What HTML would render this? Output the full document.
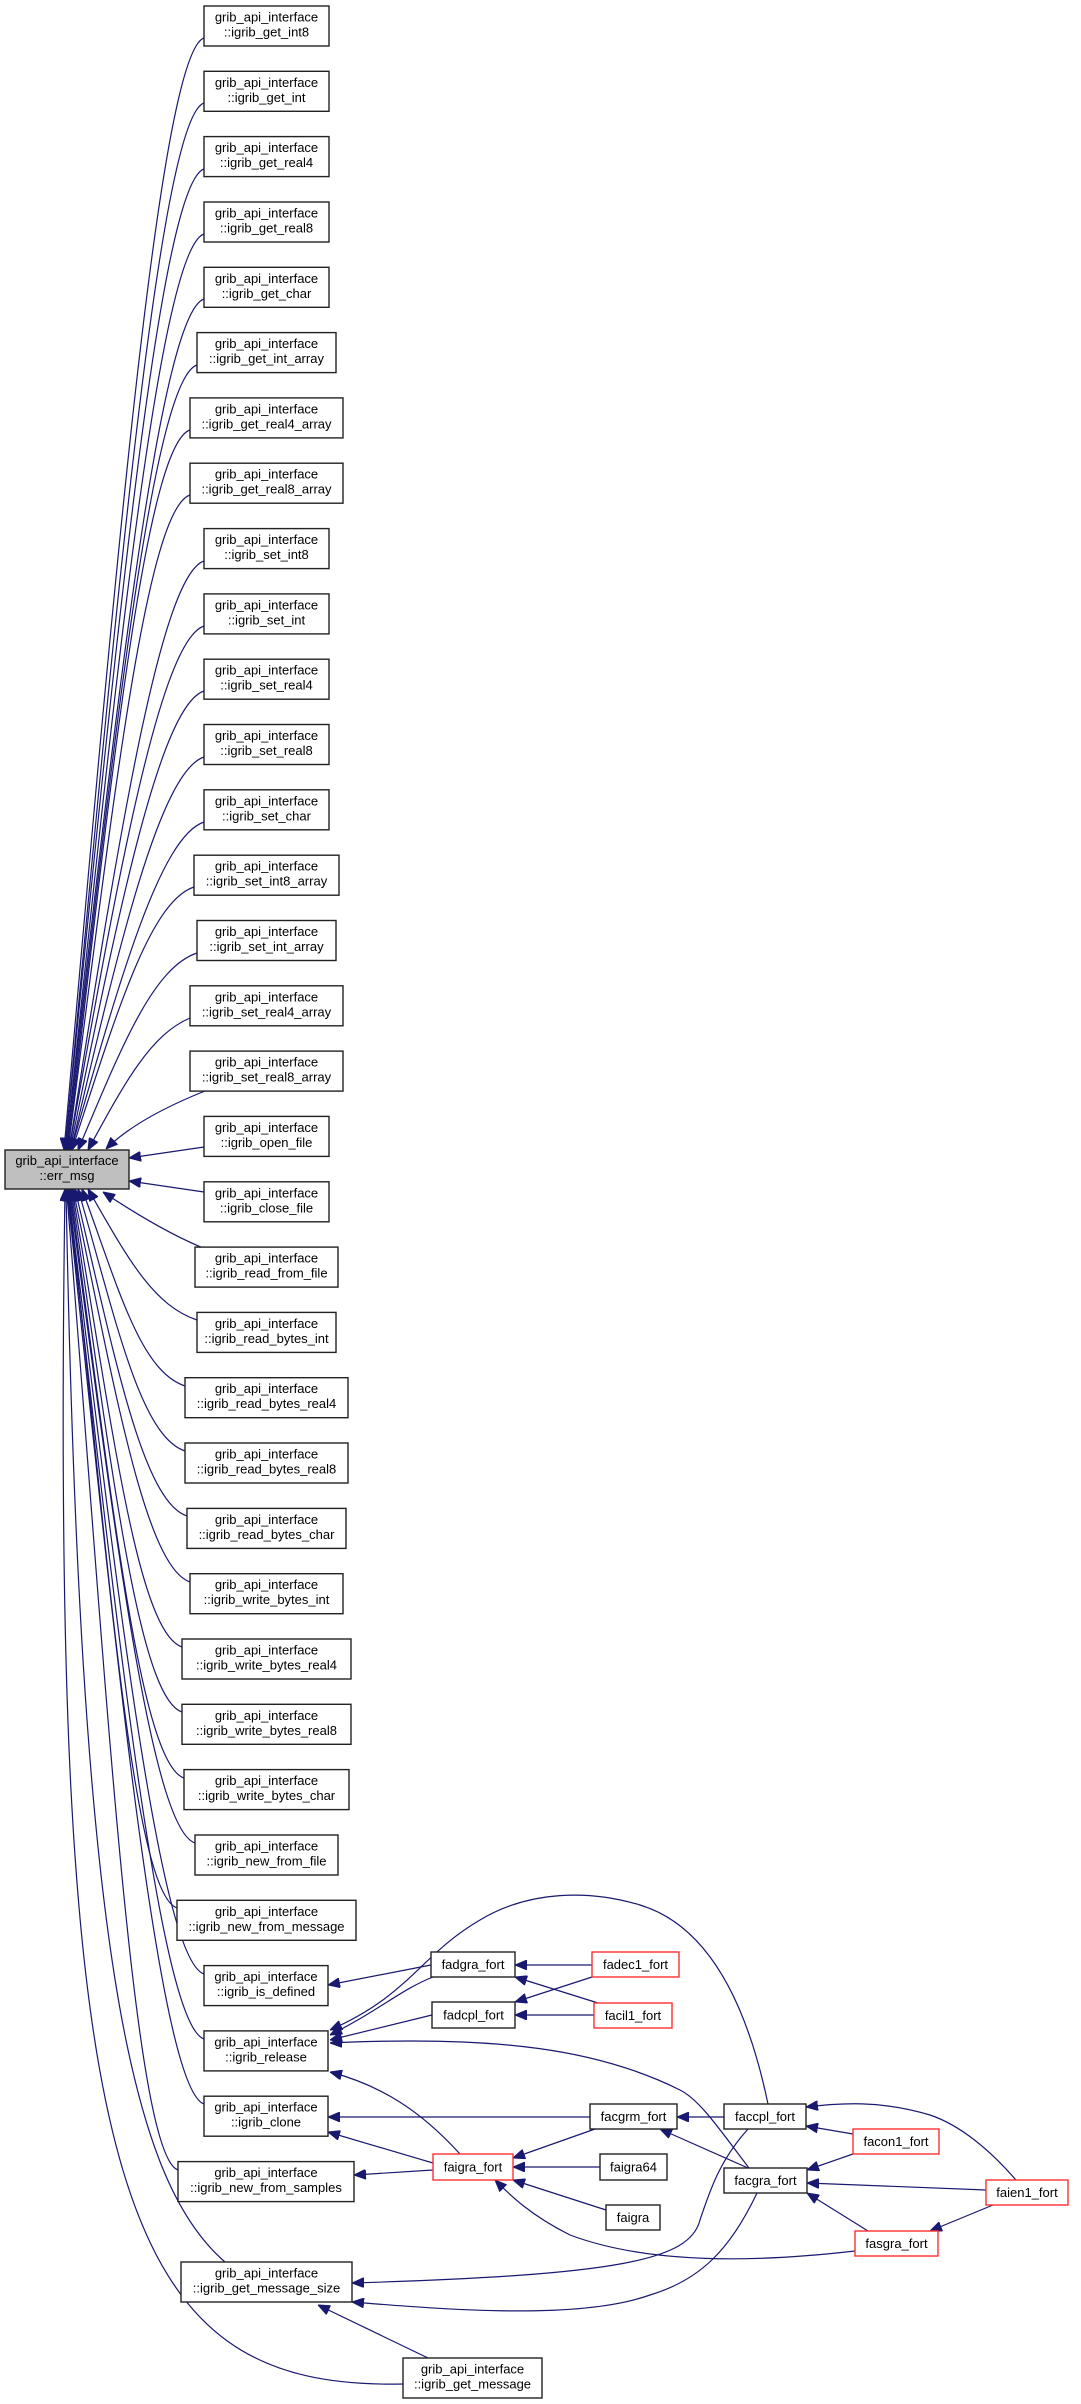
<!DOCTYPE html>
<html><head><meta charset="utf-8"><style>
html,body{margin:0;padding:0;background:#fff;}
svg{display:block;}
text{font-family:"Liberation Sans",Arial,sans-serif;font-size:13px;fill:#000;}
.n{fill:#fff;stroke:#222;stroke-width:1.4;}
.r{fill:#fff;stroke:#ff3030;stroke-width:1.4;}
.e{fill:none;stroke:#191970;stroke-width:1.2;marker-end:url(#a);}
</style></head><body>
<svg width="1081" height="2404" viewBox="0 0 1081 2404" xmlns="http://www.w3.org/2000/svg">
<defs><marker id="a" markerUnits="userSpaceOnUse" markerWidth="12" markerHeight="10" refX="12" refY="5" orient="auto"><path d="M0,0 L12,5 L0,10 z" fill="#191970" stroke="#191970"/></marker></defs>
<g class="edges">
<path class="e" d="M204,38 C159,53 113,594 64,1150"/>
<path class="e" d="M204,103 C159,118 114,626 65,1150"/>
<path class="e" d="M204,169 C159,184 114,659 65,1150"/>
<path class="e" d="M204,234 C159,249 114,692 66,1150"/>
<path class="e" d="M204,299 C159,314 114,724 66,1150"/>
<path class="e" d="M197,365 C152,380 112,757 67,1150"/>
<path class="e" d="M190,430 C145,445 110,790 68,1150"/>
<path class="e" d="M190,495 C145,510 111,822 68,1150"/>
<path class="e" d="M204,561 C159,576 116,856 69,1150"/>
<path class="e" d="M204,626 C159,641 116,888 69,1150"/>
<path class="e" d="M204,691 C159,706 117,920 70,1150"/>
<path class="e" d="M204,757 C159,772 117,954 71,1150"/>
<path class="e" d="M204,822 C159,837 118,986 71,1150"/>
<path class="e" d="M194,887 C149,902 115,1018 72,1150"/>
<path class="e" d="M197,953 C152,968 120,1051 78,1150"/>
<path class="e" d="M190,1018 C150,1035 124,1084 88,1150"/>
<path class="e" d="M205,1091 C170,1105 130,1125 106,1149"/>
<path class="e" d="M204,1147 L129,1158"/>
<path class="e" d="M204,1192 L129,1181"/>
<path class="e" d="M208,1250 C170,1235 130,1210 103,1192"/>
<path class="e" d="M197,1320 C152,1305 126,1255 88,1189"/>
<path class="e" d="M185,1386 C140,1371 118,1287 82,1189"/>
<path class="e" d="M185,1451 C140,1436 116,1320 78,1189"/>
<path class="e" d="M187,1516 C142,1501 114,1353 75,1189"/>
<path class="e" d="M190,1582 C145,1567 114,1385 73,1189"/>
<path class="e" d="M182,1647 C137,1632 111,1418 72,1189"/>
<path class="e" d="M182,1712 C137,1697 110,1451 71,1189"/>
<path class="e" d="M184,1778 C139,1763 110,1483 70,1189"/>
<path class="e" d="M195,1843 C150,1828 113,1516 69,1189"/>
<path class="e" d="M177,1908 C132,1893 107,1549 68.5,1189"/>
<path class="e" d="M204,1974 C159,1959 116,1581 68,1189"/>
<path class="e" d="M204,2039 C159,2024 115,1614 67.5,1189"/>
<path class="e" d="M204,2104 C159,2089 115,1646 67,1189"/>
<path class="e" d="M178,2170 C133,2155 106,1679 66.5,1189"/>
<path class="e" d="M225,2262 C130,2180 80,1950 66,1189"/>
<path class="e" d="M403,2384 C120,2390 50,2200 65,1189"/>

<path class="e" d="M431,1965 L328,1985"/>
<path class="e" d="M433,1977 C400,1990 380,2010 330,2035"/>
<path class="e" d="M432,2015 L330,2040"/>
<path class="e" d="M768,2104 C740,1970 690,1920 640,1905 C590,1890 530,1890 480,1920 C420,1955 410,1995 330,2030"/>
<path class="e" d="M749,2168 C720,2130 700,2100 680,2090 C600,2050 500,2035 330,2043"/>
<path class="e" d="M460,2154 C420,2110 380,2085 330,2072"/>
<path class="e" d="M592,1965 L515,1965"/>
<path class="e" d="M598,2003 L515,1977"/>
<path class="e" d="M592,1977 L515,2002"/>
<path class="e" d="M594,2015 L515,2015"/>
<path class="e" d="M590,2117 L328,2117"/>
<path class="e" d="M433,2163 L328,2132"/>
<path class="e" d="M433,2170 L354,2175"/>
<path class="e" d="M724,2117 L677,2117"/>
<path class="e" d="M748,2168 L660,2129"/>
<path class="e" d="M595,2129 L513,2158"/>
<path class="e" d="M600,2167 L513,2167"/>
<path class="e" d="M606,2210 L513,2180"/>
<path class="e" d="M855,2251 C760,2262 650,2265 570,2235 C530,2215 510,2195 495,2180"/>
<path class="e" d="M1016,2180 C990,2150 960,2125 930,2115 C880,2100 840,2103 806,2107"/>
<path class="e" d="M853,2134 L806,2126"/>
<path class="e" d="M853,2154 L807,2170"/>
<path class="e" d="M986,2190 L807,2183"/>
<path class="e" d="M868,2231 L807,2193"/>
<path class="e" d="M993,2205 L930,2231"/>
<path class="e" d="M748,2129 C720,2160 710,2190 700,2220 C690,2260 620,2275 352,2283"/>
<path class="e" d="M757,2193 C730,2250 700,2280 650,2295 C580,2320 450,2310 352,2302"/>
<path class="e" d="M428,2358 L318,2305"/>
</g>

<rect x="5" y="1150" width="124" height="39" fill="#bfbfbf" stroke="#222" stroke-width="1.4"/>
<text x="67" y="1165" text-anchor="middle">grib_api_interface</text>
<text x="67" y="1180" text-anchor="middle">::err_msg</text>

<g text-anchor="middle">
<rect class="n" x="204" y="6" width="125" height="40"/><text x="266.5" y="21.5">grib_api_interface</text><text x="266.5" y="36.5">::igrib_get_int8</text>
<rect class="n" x="204" y="71.3" width="125" height="40"/><text x="266.5" y="86.8">grib_api_interface</text><text x="266.5" y="101.8">::igrib_get_int</text>
<rect class="n" x="204" y="136.6" width="125" height="40"/><text x="266.5" y="152.1">grib_api_interface</text><text x="266.5" y="167.1">::igrib_get_real4</text>
<rect class="n" x="204" y="202" width="125" height="40"/><text x="266.5" y="217.5">grib_api_interface</text><text x="266.5" y="232.5">::igrib_get_real8</text>
<rect class="n" x="204" y="267.3" width="125" height="40"/><text x="266.5" y="282.8">grib_api_interface</text><text x="266.5" y="297.8">::igrib_get_char</text>
<rect class="n" x="197" y="332.6" width="139" height="40"/><text x="266.5" y="348.1">grib_api_interface</text><text x="266.5" y="363.1">::igrib_get_int_array</text>
<rect class="n" x="190" y="397.9" width="153" height="40"/><text x="266.5" y="413.4">grib_api_interface</text><text x="266.5" y="428.4">::igrib_get_real4_array</text>
<rect class="n" x="190" y="463.2" width="153" height="40"/><text x="266.5" y="478.7">grib_api_interface</text><text x="266.5" y="493.7">::igrib_get_real8_array</text>
<rect class="n" x="204" y="528.6" width="125" height="40"/><text x="266.5" y="544.1">grib_api_interface</text><text x="266.5" y="559.1">::igrib_set_int8</text>
<rect class="n" x="204" y="593.9" width="125" height="40"/><text x="266.5" y="609.4">grib_api_interface</text><text x="266.5" y="624.4">::igrib_set_int</text>
<rect class="n" x="204" y="659.2" width="125" height="40"/><text x="266.5" y="674.7">grib_api_interface</text><text x="266.5" y="689.7">::igrib_set_real4</text>
<rect class="n" x="204" y="724.5" width="125" height="40"/><text x="266.5" y="740">grib_api_interface</text><text x="266.5" y="755">::igrib_set_real8</text>
<rect class="n" x="204" y="789.8" width="125" height="40"/><text x="266.5" y="805.3">grib_api_interface</text><text x="266.5" y="820.3">::igrib_set_char</text>
<rect class="n" x="194" y="855.2" width="145" height="40"/><text x="266.5" y="870.7">grib_api_interface</text><text x="266.5" y="885.7">::igrib_set_int8_array</text>
<rect class="n" x="197" y="920.5" width="139" height="40"/><text x="266.5" y="936">grib_api_interface</text><text x="266.5" y="951">::igrib_set_int_array</text>
<rect class="n" x="190" y="985.8" width="153" height="40"/><text x="266.5" y="1001.3">grib_api_interface</text><text x="266.5" y="1016.3">::igrib_set_real4_array</text>
<rect class="n" x="190" y="1051.1" width="153" height="40"/><text x="266.5" y="1066.6">grib_api_interface</text><text x="266.5" y="1081.6">::igrib_set_real8_array</text>
<rect class="n" x="204" y="1116.4" width="125" height="40"/><text x="266.5" y="1131.9">grib_api_interface</text><text x="266.5" y="1146.9">::igrib_open_file</text>
<rect class="n" x="204" y="1181.8" width="125" height="40"/><text x="266.5" y="1197.3">grib_api_interface</text><text x="266.5" y="1212.3">::igrib_close_file</text>
<rect class="n" x="195" y="1247.1" width="143" height="40"/><text x="266.5" y="1262.6">grib_api_interface</text><text x="266.5" y="1277.6">::igrib_read_from_file</text>
<rect class="n" x="197" y="1312.4" width="139" height="40"/><text x="266.5" y="1327.9">grib_api_interface</text><text x="266.5" y="1342.9">::igrib_read_bytes_int</text>
<rect class="n" x="185" y="1377.7" width="163" height="40"/><text x="266.5" y="1393.2">grib_api_interface</text><text x="266.5" y="1408.2">::igrib_read_bytes_real4</text>
<rect class="n" x="185" y="1443" width="163" height="40"/><text x="266.5" y="1458.5">grib_api_interface</text><text x="266.5" y="1473.5">::igrib_read_bytes_real8</text>
<rect class="n" x="187" y="1508.4" width="159" height="40"/><text x="266.5" y="1523.9">grib_api_interface</text><text x="266.5" y="1538.9">::igrib_read_bytes_char</text>
<rect class="n" x="190" y="1573.7" width="153" height="40"/><text x="266.5" y="1589.2">grib_api_interface</text><text x="266.5" y="1604.2">::igrib_write_bytes_int</text>
<rect class="n" x="182" y="1639" width="169" height="40"/><text x="266.5" y="1654.5">grib_api_interface</text><text x="266.5" y="1669.5">::igrib_write_bytes_real4</text>
<rect class="n" x="182" y="1704.3" width="169" height="40"/><text x="266.5" y="1719.8">grib_api_interface</text><text x="266.5" y="1734.8">::igrib_write_bytes_real8</text>
<rect class="n" x="184" y="1769.6" width="165" height="40"/><text x="266.5" y="1785.1">grib_api_interface</text><text x="266.5" y="1800.1">::igrib_write_bytes_char</text>
<rect class="n" x="195" y="1835" width="143" height="40"/><text x="266.5" y="1850.5">grib_api_interface</text><text x="266.5" y="1865.5">::igrib_new_from_file</text>
<rect class="n" x="177" y="1900.3" width="179" height="40"/><text x="266.5" y="1915.8">grib_api_interface</text><text x="266.5" y="1930.8">::igrib_new_from_message</text>
<rect class="n" x="204" y="1965.6" width="124" height="40"/><text x="266" y="1981.1">grib_api_interface</text><text x="266" y="1996.1">::igrib_is_defined</text>
<rect class="n" x="204" y="2030.9" width="124" height="40"/><text x="266" y="2046.4">grib_api_interface</text><text x="266" y="2061.4">::igrib_release</text>
<rect class="n" x="204" y="2096.2" width="124" height="40"/><text x="266" y="2111.7">grib_api_interface</text><text x="266" y="2126.7">::igrib_clone</text>
<rect class="n" x="178" y="2161.6" width="176" height="40"/><text x="266" y="2177.1">grib_api_interface</text><text x="266" y="2192.1">::igrib_new_from_samples</text>
<rect class="n" x="181" y="2262" width="171" height="40"/><text x="266.5" y="2277.5">grib_api_interface</text><text x="266.5" y="2292.5">::igrib_get_message_size</text>
<rect class="n" x="403" y="2358" width="139" height="40"/><text x="472.5" y="2373.5">grib_api_interface</text><text x="472.5" y="2388.5">::igrib_get_message</text>

<rect class="n" x="431" y="1952" width="84" height="25"/><text x="473" y="1969">fadgra_fort</text>
<rect class="n" x="432" y="2002" width="83" height="26"/><text x="473.5" y="2019.5">fadcpl_fort</text>
<rect class="r" x="592" y="1952" width="87" height="25"/><text x="635.5" y="1969">fadec1_fort</text>
<rect class="r" x="594" y="2003" width="78" height="25"/><text x="633" y="2020">facil1_fort</text>
<rect class="n" x="590" y="2104" width="87" height="25"/><text x="633.5" y="2121">facgrm_fort</text>
<rect class="n" x="724" y="2104" width="82" height="25"/><text x="765" y="2121">faccpl_fort</text>
<rect class="r" x="853" y="2129" width="86" height="25"/><text x="896" y="2146">facon1_fort</text>
<rect class="r" x="433" y="2154" width="80" height="26"/><text x="473" y="2171.5">faigra_fort</text>
<rect class="n" x="600" y="2154" width="67" height="26"/><text x="633.5" y="2171.5">faigra64</text>
<rect class="n" x="724" y="2168" width="83" height="25"/><text x="765.5" y="2185">facgra_fort</text>
<rect class="r" x="986" y="2180" width="82" height="25"/><text x="1027" y="2197">faien1_fort</text>
<rect class="n" x="606" y="2205" width="54" height="25"/><text x="633" y="2222">faigra</text>
<rect class="r" x="855" y="2231" width="83" height="25"/><text x="896.5" y="2248">fasgra_fort</text>
</g>
</svg>
</body></html>
